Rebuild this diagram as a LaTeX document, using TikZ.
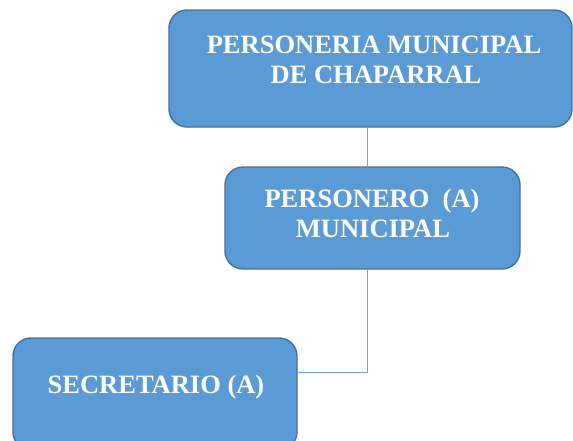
\documentclass[tikz,border=0pt]{standalone}
\usepackage{fontspec}
\setmainfont{Liberation Serif}
\definecolor{boxfill}{HTML}{5B9BD5}
\definecolor{boxline}{HTML}{41719C}
\definecolor{conn}{HTML}{6FA3D8}
\begin{document}
\begin{tikzpicture}[x=1pt,y=-1pt,
  orgbox/.style={draw=boxline, fill=boxfill, line width=1.4pt, rounded corners=18pt, inner sep=0pt},
  lbl/.style={text=white, font=\fontsize{26.5}{30}\selectfont\bfseries, inner sep=0pt, anchor=base},
  link/.style={draw=conn, line width=1pt}]
\useasboundingbox (0,0) rectangle (573,440);
\clip (0,0) rectangle (573,440);
\node[orgbox, minimum width=403pt, minimum height=117pt] (top) at (370.5,68.5) {};
\node[orgbox, minimum width=295pt, minimum height=102pt] (mid) at (372.5,218) {};
\node[orgbox, minimum width=284pt, minimum height=112pt] (sec) at (155,394) {};
\coordinate (j) at (367.5,372);
\draw[link] (top.south -| j) -- (mid.north -| j);
\draw[link] (mid.south -| j) -- (j) -- (sec.east |- j);
\node[lbl] (t1) at (374,53) {PERSONERIA MUNICIPAL};
\node[lbl] (t2) at (376,83) {DE CHAPARRAL};
\node[lbl] (m1) at (372,207) {PERSONERO\ \ (A)};
\node[lbl] (m2) at (373,237) {MUNICIPAL};
\node[lbl] (s1) at (156,393) {SECRETARIO (A)};
\end{tikzpicture}
\end{document}
